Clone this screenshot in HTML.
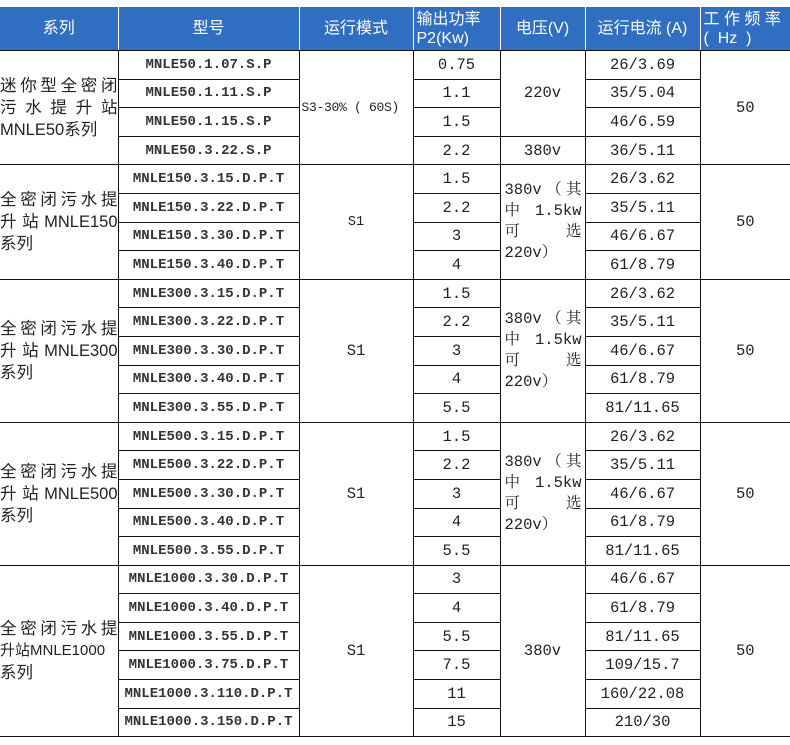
<!DOCTYPE html>
<html><head><meta charset="utf-8">
<style>
body{margin:0;background:#fff;width:790px;height:745px;overflow:hidden;position:relative}
table{position:absolute;left:0;top:7px;border-collapse:collapse;table-layout:fixed;width:790px}
td,th{padding:0;text-align:center;vertical-align:middle;border:1.5px solid #111;overflow:hidden;white-space:nowrap}
th{background:#2f6ec0;color:#fff;font-family:"Liberation Sans","Noto Sans CJK SC",sans-serif;font-weight:normal;font-size:16px;height:43px;border:1.5px solid #fff;border-bottom:1.5px solid #111;border-top:none;line-height:19px}
th:first-child{border-left:none}
th:last-child{border-right:none}
td{height:27.6px;font-family:"Liberation Mono","Noto Serif CJK SC",monospace;font-size:15.5px;color:#222}
td.m{font-size:14px;font-weight:bold;color:#333;letter-spacing:0px}
td.s{text-align:left;border-left:none;font-family:"Liberation Sans","Noto Sans CJK SC",sans-serif;font-size:16.5px;line-height:22px;white-space:normal}
td:last-child{border-right:none}
.j{display:block;text-align:justify;text-align-last:justify;white-space:nowrap}
.n{display:block;white-space:nowrap;font-size:15px}
td.v{text-align:left;padding:0 3px 0 4px;font-size:15.5px;line-height:21px;font-family:"Liberation Mono","Noto Serif CJK SC",monospace}
tr.last td{border-bottom:1.5px solid #111}
</style></head><body>
<table>
<colgroup><col style="width:118px"><col style="width:181px"><col style="width:114px"><col style="width:87px"><col style="width:85px"><col style="width:115px"><col style="width:90px"></colgroup>
<tr><th>系列</th><th>型号</th><th>运行模式</th><th style="text-align:left;padding-left:3px">输出功率<br>P2(Kw)</th><th>电压(V)</th><th>运行电流 (A)</th><th style="text-align:left;padding-left:3px">工 作 频 率<br>(&nbsp;&nbsp;Hz&nbsp;&nbsp;)</th></tr>

<tr><td class="s" rowspan="4"><span class="j">迷你型全密闭</span><span class="j">污水提升站</span>MNLE50系列</td><td class="m">MNLE50.1.07.S.P</td><td rowspan="4" style="text-align:left;padding-left:2px;font-size:13px;letter-spacing:-0.3px">S3-30% ( 60S)</td><td>0.75</td><td rowspan="3">220v</td><td>26/3.69</td><td rowspan="4">50</td></tr>
<tr><td class="m">MNLE50.1.11.S.P</td><td>1.1</td><td>35/5.04</td></tr>
<tr><td class="m">MNLE50.1.15.S.P</td><td>1.5</td><td>46/6.59</td></tr>
<tr><td class="m">MNLE50.3.22.S.P</td><td>2.2</td><td>380v</td><td>36/5.11</td></tr>

<tr><td class="s" rowspan="4"><span class="j">全密闭污水提</span><span class="j">升站MNLE150</span>系列</td><td class="m">MNLE150.3.15.D.P.T</td><td rowspan="4" style="font-size:13.5px">S1</td><td>1.5</td><td class="v" rowspan="4"><span class="j">380v（其</span><span class="j">中 1.5kw</span><span class="j">可 选</span>220v）</td><td>26/3.62</td><td rowspan="4">50</td></tr>
<tr><td class="m">MNLE150.3.22.D.P.T</td><td>2.2</td><td>35/5.11</td></tr>
<tr><td class="m">MNLE150.3.30.D.P.T</td><td>3</td><td>46/6.67</td></tr>
<tr><td class="m">MNLE150.3.40.D.P.T</td><td>4</td><td>61/8.79</td></tr>

<tr><td class="s" rowspan="5"><span class="j">全密闭污水提</span><span class="j">升站MNLE300</span>系列</td><td class="m">MNLE300.3.15.D.P.T</td><td rowspan="5">S1</td><td>1.5</td><td class="v" rowspan="5"><span class="j">380v（其</span><span class="j">中 1.5kw</span><span class="j">可 选</span>220v）</td><td>26/3.62</td><td rowspan="5">50</td></tr>
<tr><td class="m">MNLE300.3.22.D.P.T</td><td>2.2</td><td>35/5.11</td></tr>
<tr><td class="m">MNLE300.3.30.D.P.T</td><td>3</td><td>46/6.67</td></tr>
<tr><td class="m">MNLE300.3.40.D.P.T</td><td>4</td><td>61/8.79</td></tr>
<tr><td class="m">MNLE300.3.55.D.P.T</td><td>5.5</td><td>81/11.65</td></tr>

<tr><td class="s" rowspan="5"><span class="j">全密闭污水提</span><span class="j">升站MNLE500</span>系列</td><td class="m">MNLE500.3.15.D.P.T</td><td rowspan="5">S1</td><td>1.5</td><td class="v" rowspan="5"><span class="j">380v（其</span><span class="j">中 1.5kw</span><span class="j">可 选</span>220v）</td><td>26/3.62</td><td rowspan="5">50</td></tr>
<tr><td class="m">MNLE500.3.22.D.P.T</td><td>2.2</td><td>35/5.11</td></tr>
<tr><td class="m">MNLE500.3.30.D.P.T</td><td>3</td><td>46/6.67</td></tr>
<tr><td class="m">MNLE500.3.40.D.P.T</td><td>4</td><td>61/8.79</td></tr>
<tr><td class="m">MNLE500.3.55.D.P.T</td><td>5.5</td><td>81/11.65</td></tr>

<tr><td class="s" rowspan="6"><span class="j">全密闭污水提</span><span class="n">升站MNLE1000</span>系列</td><td class="m">MNLE1000.3.30.D.P.T</td><td rowspan="6">S1</td><td>3</td><td rowspan="6">380v</td><td>46/6.67</td><td rowspan="6">50</td></tr>
<tr><td class="m">MNLE1000.3.40.D.P.T</td><td>4</td><td>61/8.79</td></tr>
<tr><td class="m">MNLE1000.3.55.D.P.T</td><td>5.5</td><td>81/11.65</td></tr>
<tr><td class="m">MNLE1000.3.75.D.P.T</td><td>7.5</td><td>109/15.7</td></tr>
<tr><td class="m">MNLE1000.3.110.D.P.T</td><td>11</td><td>160/22.08</td></tr>
<tr class="last"><td class="m">MNLE1000.3.150.D.P.T</td><td>15</td><td>210/30</td></tr>
</table>
</body></html>
